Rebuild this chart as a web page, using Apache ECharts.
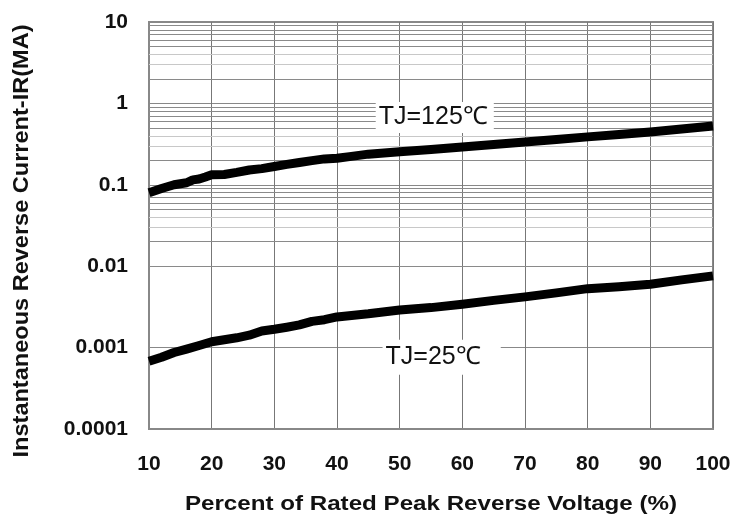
<!DOCTYPE html>
<html><head><meta charset="utf-8">
<script src="https://cdn.jsdelivr.net/npm/echarts@6/dist/echarts.min.js"></script>
<style>html,body{margin:0;padding:0;background:#fff}#c{width:749px;height:518px}</style>
</head><body><div id="c"></div>
<script>
const xTickLabels = ['10','20','30','40','50','60','70','80','90','100'];
const yTickLabels = ['0.0001','0.001','0.01','0.1','1','10'];
const seriesNames = ['TJ=125℃','TJ=25℃'];
const xTitle = 'Percent of Rated Peak Reverse Voltage (%)';
const yTitle = 'Instantaneous Reverse Current-IR(MA)';
const x125 = [10,12,14,16,17,18,19,20,22,24,26,28,30,32,34,36,38,40,42,45,50,55,60,65,70,75,80,85,90,95,100];
const y125 = [0.080,0.090,0.100,0.106,0.115,0.118,0.125,0.133,0.134,0.142,0.152,0.158,0.168,0.178,0.188,0.198,0.208,0.212,0.222,0.238,0.255,0.272,0.292,0.313,0.336,0.36,0.388,0.415,0.446,0.485,0.527];
const x25 = [10,12,14,16,18,20,22,24,26,28,30,32,34,36,38,40,45,50,55,60,65,70,75,80,85,90,95,100];
const y25 = [0.00068,0.00076,0.00087,0.00096,0.00106,0.00118,0.00125,0.00132,0.00142,0.0016,0.00168,0.00178,0.0019,0.0021,0.0022,0.00238,0.0026,0.0029,0.0031,0.0034,0.0038,0.0042,0.0047,0.0053,0.0056,0.006,0.0068,0.0076];
const labelPos125 = [55.6, 0.67];
const labelPos25 = [56.7, 0.00076];
const decades = [0.0001,0.001,0.01,0.1,1];
const minorMult = [2,3,4,5,6,7,8,9];

const minorLines = [];
decades.forEach(d => minorMult.forEach(m => {
  minorLines.push({yAxis: d*m, lineStyle:{color: (m===3||m===4)?'#c8c8c8':'#8a8a8a'}});
}));

const chart = echarts.init(document.getElementById('c'));
const font = 'Arial, "Liberation Sans", sans-serif';
chart.setOption({
  animation:false,
  backgroundColor:'#fff',
  grid:{left:149,right:36,top:22,bottom:89,show:true,borderColor:'#888',borderWidth:2,backgroundColor:'transparent'},
  graphic:[
    {type:'text',x:431,y:504,scaleX:1.15,silent:true,
     style:{text:xTitle,font:'bold 21px Arial, "Liberation Sans", sans-serif',fill:'#111',textAlign:'center',textVerticalAlign:'middle'}},
    {type:'text',x:22,y:241,rotation:Math.PI/2,scaleX:1.07,silent:true,
     style:{text:yTitle,font:'bold 22px Arial, "Liberation Sans", sans-serif',fill:'#111',textAlign:'center',textVerticalAlign:'middle'}}
  ],
  xAxis:{type:'value',min:10,max:100,interval:10,
    axisLine:{show:true,lineStyle:{color:'#888',width:2}},axisTick:{show:false},
    axisLabel:{margin:25,fontFamily:font,fontWeight:'bold',fontSize:21,color:'#111',
      formatter:(v,i)=>xTickLabels[i]},
    splitLine:{show:true,lineStyle:{color:'#777',width:1}}},
  yAxis:{type:'log',logBase:10,min:0.0001,max:10,
    axisLine:{show:true,lineStyle:{color:'#888',width:2}},axisTick:{show:false},
    axisLabel:{margin:21,fontFamily:font,fontWeight:'bold',fontSize:21,color:'#111',
      formatter:(v,i)=>yTickLabels[i]},
    splitLine:{show:true,lineStyle:{color:'#888',width:1}}},
  series:[
    {type:'line',data:[],silent:true,z:1,
     markLine:{silent:true,symbol:'none',label:{show:false},animation:false,
       lineStyle:{type:'solid',width:1,color:'#8a8a8a'},data:minorLines}},
    {name:seriesNames[0],type:'line',z:5,showSymbol:false,smooth:false,clip:true,
     data:x125.map((x,i)=>[x,y125[i]]),lineStyle:{color:'#000',width:9,cap:'butt',join:'round'},
     markPoint:{symbol:'rect',symbolSize:0,silent:true,data:[{coord:labelPos125}],
       label:{show:true,position:'inside',formatter:seriesNames[0],fontFamily:font,fontSize:25,color:'#111',
         backgroundColor:'#fff',padding:[3,6,3,3]}}},
    {name:seriesNames[1],type:'line',z:5,showSymbol:false,smooth:false,clip:true,
     data:x25.map((x,i)=>[x,y25[i]]),lineStyle:{color:'#000',width:9,cap:'butt',join:'round'},
     markPoint:{symbol:'rect',symbolSize:0,silent:true,data:[{coord:labelPos25}],
       label:{show:true,position:'inside',formatter:seriesNames[1],fontFamily:font,fontSize:25,color:'#111',
         backgroundColor:'#fff',padding:[5,20,5,3]}}}
  ]
});
</script></body></html>
